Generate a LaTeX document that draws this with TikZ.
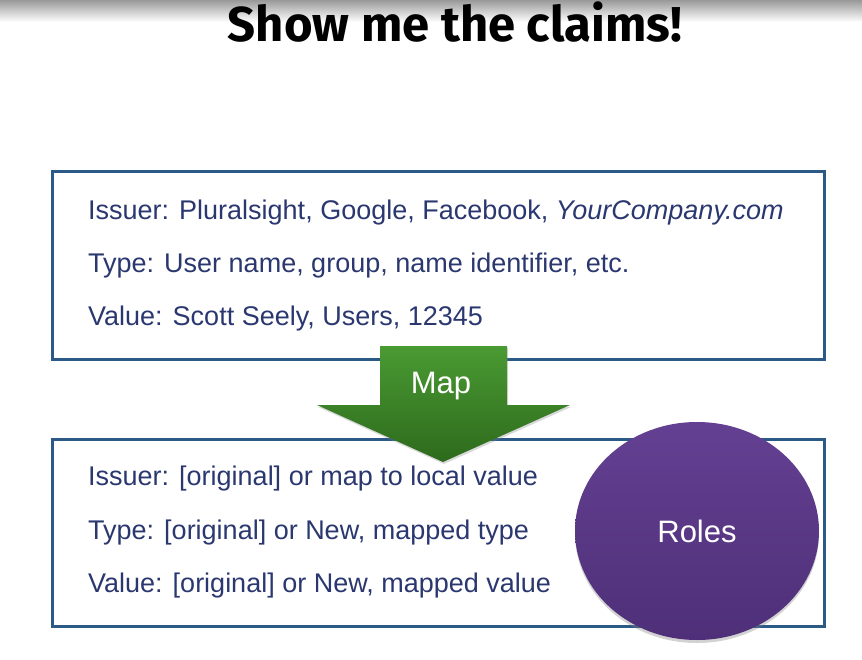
\documentclass[tikz,border=0pt]{standalone}
\usepackage{fontspec}
\setmainfont{Liberation Sans}
\newfontfamily\titlefont{Fira Sans}
\usetikzlibrary{shapes.geometric,shadows}
\definecolor{boxblue}{HTML}{2C5A86}
\definecolor{txtblue}{HTML}{2B3870}
\definecolor{greenA}{HTML}{4A9A33}
\definecolor{greenB}{HTML}{2D6A1C}
\definecolor{purpleA}{HTML}{644092}
\definecolor{purpleB}{HTML}{4E2F78}
\tikzset{
  claimbox/.style={draw=boxblue, line width=3pt, fill=white},
  claimtext/.style={anchor=west, text=txtblue, font=\fontsize{27}{30}\selectfont, inner sep=0pt},
}
\begin{document}
\begin{tikzpicture}[x=1pt,y=-1pt]
\useasboundingbox (0,0) rectangle (862,660);
\fill[white] (0,0) rectangle (862,660);
\shade[top color=black!40, bottom color=white] (0,0) rectangle (862,22);
\node[font=\titlefont\bfseries\fontsize{49}{52}\selectfont, inner sep=0pt] (title) at (455,22) {Show me the claims!};

% top box
\draw[claimbox] (52,172) rectangle (824,359);
\node[claimtext] (t1) at (88,213) {Issuer: Pluralsight, Google, Facebook, \textit{YourCompany.com}};
\node[claimtext] (t2) at (88,266) {Type: User name, group, name identifier, etc.};
\node[claimtext] (t3) at (88,319) {Value: Scott Seely, Users, 12345};

% bottom box
\draw[claimbox] (52,439) rectangle (824,626);
\node[claimtext] (b1) at (88,479) {Issuer: [original] or map to local value};
\node[claimtext] (b2) at (88,533) {Type: [original] or New, mapped type};
\node[claimtext] (b3) at (88,586) {Value: [original] or New, mapped value};

% arrow
\shade[top color=greenA, bottom color=greenB, drop shadow={opacity=0.3,shadow xshift=1pt,shadow yshift=-2pt}]
  (380,346) -- (507,346) -- (507,405) -- (570,405) -- (443,462) -- (317,405) -- (380,405) -- cycle;
\node[text=white, font=\fontsize{31}{34}\selectfont] (map) at (441,386) {Map};

% roles ellipse
\node[ellipse, minimum width=244pt, minimum height=218pt, inner sep=0pt,
  top color=purpleA, bottom color=purpleB, text=white,
  drop shadow={opacity=0.35,shadow xshift=0pt,shadow yshift=-3pt},
  font=\fontsize{31}{34}\selectfont] (roles) at (697,531) {Roles};
\end{tikzpicture}
\end{document}
